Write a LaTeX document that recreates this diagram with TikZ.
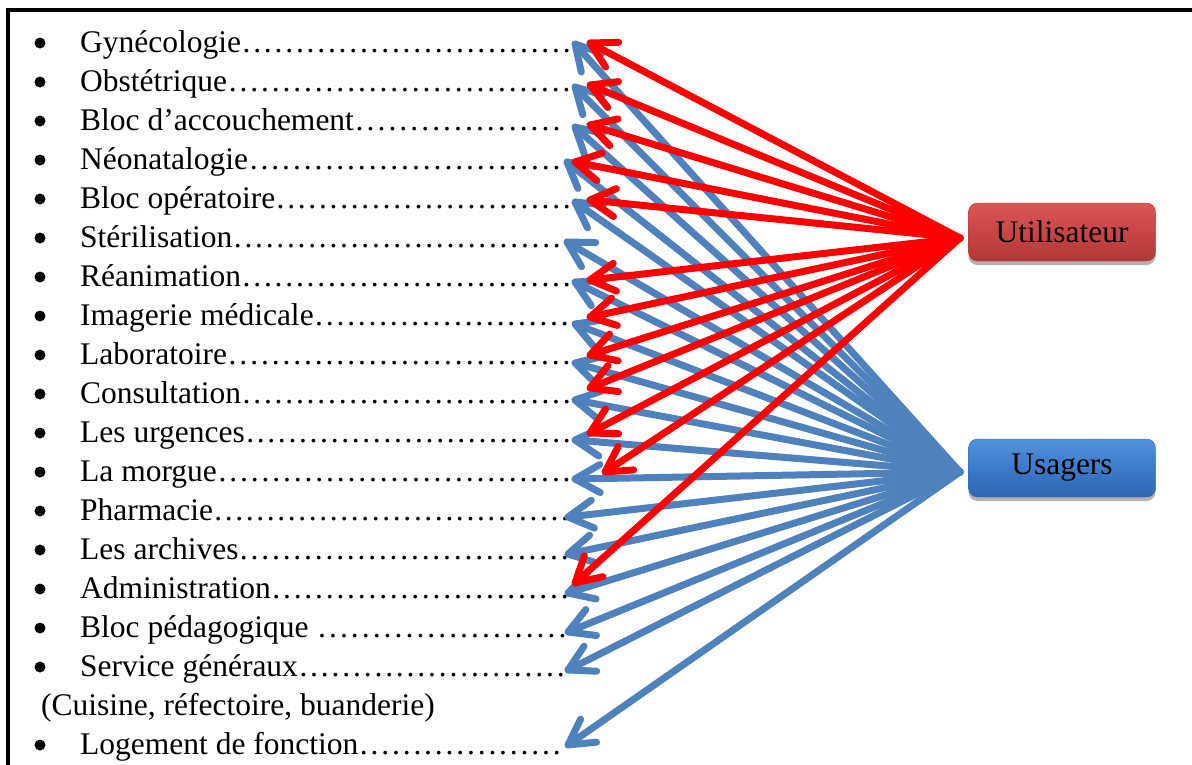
\documentclass[tikz,border=0pt]{standalone}
\usepackage{fontspec}
\setmainfont{Liberation Serif}
\usetikzlibrary{decorations.markings,shadows}
\newcommand\dotsfill{\xleaders\hbox to 10.5pt{\hss.\hss}\hfill}
\newcommand\itmtext[2]{\makebox[#1pt][l]{#2\dotsfill}}
\definecolor{ublue}{HTML}{4F81BD}
\definecolor{redtop}{HTML}{D95757}
\definecolor{redmid}{HTML}{CB4545}
\definecolor{redbot}{HTML}{B03838}
\definecolor{bluetop}{HTML}{5392DA}
\definecolor{bluemid}{HTML}{3C7ACB}
\definecolor{bluebot}{HTML}{2F65B0}
\begin{document}
\begin{tikzpicture}[x=1pt,y=-1pt,
  itm/.style={anchor=base west, inner sep=0pt, font=\fontsize{31.5}{37}\selectfont},
  bul/.style={circle, fill=black, inner sep=0pt, minimum size=11pt},
  chevron/.style={postaction={decorate}, decoration={markings,
    mark=at position 1 with {\draw[#1, line width=7pt, line cap=round, line join=round] (-25pt,14pt) -- (0pt,0pt) -- (-25pt,-14pt);}}},
  barrow/.style={draw=ublue, line width=7pt, line cap=round, chevron=ublue},
  rarrow/.style={draw=red, line width=7pt, line cap=round, chevron=red},
  box/.style={rounded corners=9pt, minimum width=187pt, minimum height=58pt, inner sep=0pt,
    font=\fontsize{31.5}{37}\selectfont,
    drop shadow={shadow xshift=0pt, shadow yshift=-4pt, opacity=0.3, fill=black}},
  redbox/.style={box, draw=redbot, top color=redtop, bottom color=redbot, middle color=redmid},
  bluebox/.style={box, draw=bluebot, top color=bluetop, bottom color=bluebot, middle color=bluemid}
]
\useasboundingbox (0,0) rectangle (1192,764);
\clip (0,0) rectangle (1192,764);
\fill[white] (0,0) rectangle (1192,764);
% frame
\draw[line width=4pt] (8,800) -- (8,9.5) -- (1250,9.5);

% list items
\node[itm] (t1) at (80,52) {\itmtext{492}{Gynécologie}};
\node[itm] (t2) at (80,91) {\itmtext{492}{Obstétrique}};
\node[itm] (t3) at (80,130) {\itmtext{482}{Bloc d’accouchement}};
\node[itm] (t4) at (80,169) {\itmtext{482}{Néonatalogie}};
\node[itm] (t5) at (80,208) {\itmtext{492}{Bloc opératoire}};
\node[itm] (t6) at (80,247) {\itmtext{482}{Stérilisation}};
\node[itm] (t7) at (80,286) {\itmtext{492}{Réanimation}};
\node[itm] (t8) at (80,325) {\itmtext{490}{Imagerie médicale}};
\node[itm] (t9) at (80,364) {\itmtext{492}{Laboratoire}};
\node[itm] (t10) at (80,403) {\itmtext{492}{Consultation}};
\node[itm] (t11) at (80,442) {\itmtext{492}{Les urgences}};
\node[itm] (t12) at (80,481) {\itmtext{492}{La morgue}};
\node[itm] (t13) at (80,520) {\itmtext{490}{Pharmacie}};
\node[itm] (t14) at (80,559) {\itmtext{490}{Les archives}};
\node[itm] (t15) at (80,598) {\itmtext{490}{Administration}};
\node[itm] (t16) at (80,637) {\itmtext{488}{Bloc pédagogique }};
\node[itm] (t17) at (80,676) {\itmtext{486}{Service généraux}};
\node[itm] (t18) at (41,715) {(Cuisine, réfectoire, buanderie)};
\node[itm] (t19) at (80,754) {\itmtext{482}{Logement de fonction}};

\foreach \n/\y in {1/43,2/82,3/121,4/160,5/199,6/238,7/277,8/316,9/355,10/394,11/433,12/472,13/511,14/550,15/589,16/628,17/667,19/745}
  \node[bul] (d\n) at (40,\y) {};

% boxes
\node[redbox] (util) at (1062,232) {Utilisateur};
\node[bluebox] (usag) at (1062,468) {Usagers};
\coordinate (ut) at (960,238);
\coordinate (us) at (960,472);

% blue targets
\foreach \n/\x/\y in {1/575/44,2/575/87,3/575/127,4/567/162,5/575/202,6/567/242,7/575/282,8/575/324,9/575/363,10/575/400,11/575/440,12/575/479,13/568/517,14/568/554,15/568/593,16/568/632,17/568/670,19/568/745}
  \coordinate (b\n) at (\x,\y);
% red targets
\foreach \n/\x/\y in {1/590/43,2/590/85,3/590/125,4/575/162,5/590/200,7/590/280,8/590/317,9/590/355,10/590/388,11/590/433,12/605/472,15/575/583}
  \coordinate (r\n) at (\x,\y);

\foreach \n in {1,2,3,4,5,6,7,8,9,10,11,12,13,14,15,16,17,19}
  \draw[barrow] (us) -- (b\n);
\foreach \n in {1,2,3,4,5,7,8,9,10,11,12,15}
  \draw[rarrow] (ut) -- (r\n);
\end{tikzpicture}
\end{document}
